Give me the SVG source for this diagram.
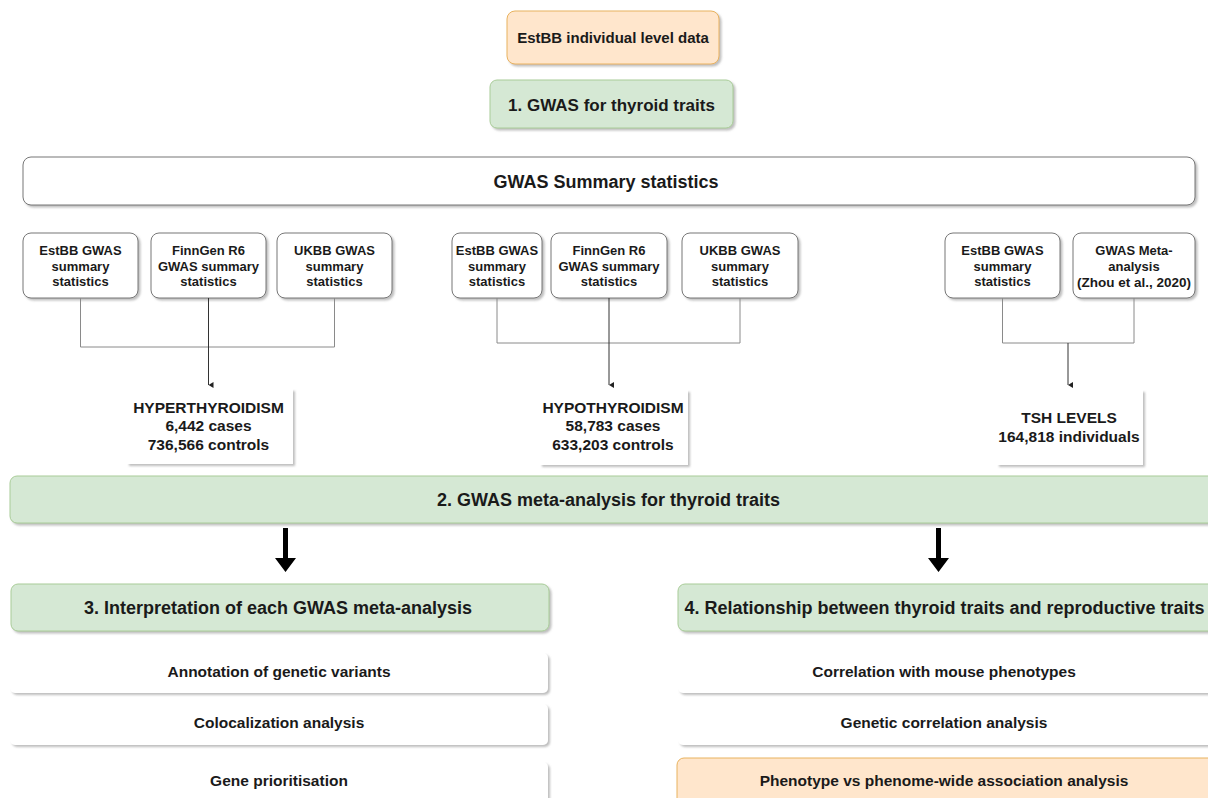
<svg xmlns="http://www.w3.org/2000/svg" width="1208" height="798" viewBox="0 0 1208 798">
<defs>
<filter id="sh" x="-5%" y="-5%" width="115%" height="130%">
<feDropShadow dx="2" dy="2" stdDeviation="1" flood-color="#888" flood-opacity="0.55"/>
</filter>
<marker id="ah" markerWidth="6" markerHeight="6" refX="3" refY="5" orient="auto" markerUnits="userSpaceOnUse">
<path d="M0,0 L6,0 L3,5 Z" fill="#222"/>
</marker>
</defs>
<style>
text{font-family:"Liberation Sans",Arial,Helvetica,sans-serif;font-weight:bold;fill:#1a1a1a;text-anchor:middle}
.orange{fill:#ffe6cc;stroke:#e8b25e;stroke-width:1}
.green{fill:#d5e8d4;stroke:#a9cc98;stroke-width:1}
.wb{fill:#fff;stroke:#777;stroke-width:1}
.plain{fill:#fff;stroke:none}
.s13{font-size:13px}
.s15{font-size:15px}
.s155{font-size:15.5px}
.s17{font-size:17px}
.s18{font-size:18px}
.ln{fill:none;stroke:#8a8a8a;stroke-width:1}
.ar{fill:none;stroke:#333;stroke-width:1}
</style>

<g id="estbb-data">
<rect class="orange" x="507" y="11" width="212" height="53" rx="8" filter="url(#sh)"/>
<text class="s15" x="613" y="42.5">EstBB individual level data</text>
</g>

<g id="step1">
<rect class="green" x="490" y="80" width="243" height="48" rx="7" filter="url(#sh)"/>
<text class="s17" x="611.5" y="111">1. GWAS for thyroid traits</text>
</g>

<g id="summary-stats">
<rect class="wb" x="23" y="157" width="1172" height="48" rx="8" filter="url(#sh)"/>
<text class="s18" x="606" y="188">GWAS Summary statistics</text>
</g>

<g id="hyper-estbb">
<rect class="wb" x="23" y="233" width="115" height="65" rx="8" filter="url(#sh)"/>
<text class="s13"><tspan x="80.5" y="254.5">EstBB GWAS</tspan><tspan x="80.5" y="271">summary</tspan><tspan x="80.5" y="286">statistics</tspan></text>
</g>
<g id="hyper-finngen">
<rect class="wb" x="151" y="233" width="115" height="65" rx="8" filter="url(#sh)"/>
<text class="s13"><tspan x="208.5" y="254.5">FinnGen R6</tspan><tspan x="208.5" y="271">GWAS summary</tspan><tspan x="208.5" y="286">statistics</tspan></text>
</g>
<g id="hyper-ukbb">
<rect class="wb" x="277" y="233" width="115" height="65" rx="8" filter="url(#sh)"/>
<text class="s13"><tspan x="334.5" y="254.5">UKBB GWAS</tspan><tspan x="334.5" y="271">summary</tspan><tspan x="334.5" y="286">statistics</tspan></text>
</g>

<g id="hypo-estbb">
<rect class="wb" x="452" y="233" width="90" height="65" rx="8" filter="url(#sh)"/>
<text class="s13"><tspan x="497" y="254.5">EstBB GWAS</tspan><tspan x="497" y="271">summary</tspan><tspan x="497" y="286">statistics</tspan></text>
</g>
<g id="hypo-finngen">
<rect class="wb" x="551" y="233" width="116" height="65" rx="8" filter="url(#sh)"/>
<text class="s13"><tspan x="609" y="254.5">FinnGen R6</tspan><tspan x="609" y="271">GWAS summary</tspan><tspan x="609" y="286">statistics</tspan></text>
</g>
<g id="hypo-ukbb">
<rect class="wb" x="682" y="233" width="116" height="65" rx="8" filter="url(#sh)"/>
<text class="s13"><tspan x="740" y="254.5">UKBB GWAS</tspan><tspan x="740" y="271">summary</tspan><tspan x="740" y="286">statistics</tspan></text>
</g>

<g id="tsh-estbb">
<rect class="wb" x="945" y="233" width="115" height="65" rx="8" filter="url(#sh)"/>
<text class="s13"><tspan x="1002.5" y="254.5">EstBB GWAS</tspan><tspan x="1002.5" y="271">summary</tspan><tspan x="1002.5" y="286">statistics</tspan></text>
</g>
<g id="tsh-meta">
<rect class="wb" x="1073" y="233" width="122" height="65" rx="8" filter="url(#sh)"/>
<text class="s13"><tspan x="1134" y="254.5">GWAS Meta-</tspan><tspan x="1134" y="271">analysis</tspan><tspan x="1134" y="287" font-size="13.5px">(Zhou et al., 2020)</tspan></text>
</g>

<g id="connectors">
<path class="ln" d="M80.5,298 V347 H334.5 V298"/>
<path class="ar" d="M208.5,298 V385" marker-end="url(#ah)"/>
<path class="ln" d="M497,298 V343 H740 V298"/>
<path class="ar" d="M609,298 V385" marker-end="url(#ah)"/>
<path class="ln" d="M1002.5,298 V343 H1134 V298"/>
<path class="ar" d="M1068,343 V385" marker-end="url(#ah)"/>
<polygon points="283,528 288,528 288,558 296,558 285.5,572 275,558 283,558" fill="#000"/>
<polygon points="936,528 941,528 941,558 949,558 938.5,572 928,558 936,558" fill="#000"/>
</g>

<g id="hyperthyroidism">
<rect class="plain" x="127" y="389" width="166" height="75" filter="url(#sh)"/>
<text class="s155"><tspan x="208.5" y="412.5">HYPERTHYROIDISM</tspan><tspan x="208.5" y="431">6,442 cases</tspan><tspan x="208.5" y="449.5">736,566 controls</tspan></text>
</g>
<g id="hypothyroidism">
<rect class="plain" x="540" y="390" width="148" height="75" filter="url(#sh)"/>
<text class="s155"><tspan x="613" y="412.5">HYPOTHYROIDISM</tspan><tspan x="613" y="431">58,783 cases</tspan><tspan x="613" y="449.5">633,203 controls</tspan></text>
</g>
<g id="tsh-levels">
<rect class="plain" x="997" y="390" width="146" height="75" filter="url(#sh)"/>
<text class="s155"><tspan x="1069" y="422.5">TSH LEVELS</tspan><tspan x="1069" y="441.5">164,818 individuals</tspan></text>
</g>

<g id="step2">
<rect class="green" x="10" y="476" width="1210" height="47" rx="7" filter="url(#sh)"/>
<text class="s18" x="608.5" y="506">2. GWAS meta-analysis for thyroid traits</text>
</g>

<g id="step3">
<rect class="green" x="11" y="584" width="538" height="47" rx="7" filter="url(#sh)"/>
<text class="s18" x="278" y="614">3. Interpretation of each GWAS meta-analysis</text>
</g>
<g id="step4">
<rect class="green" x="678" y="584" width="545" height="47" rx="7" filter="url(#sh)"/>
<text class="s18" x="944.5" y="614">4. Relationship between thyroid traits and reproductive traits</text>
</g>

<g id="annotation">
<rect class="plain" x="10" y="653" width="538" height="40" rx="5" filter="url(#sh)"/>
<text class="s155" x="279" y="676.5">Annotation of genetic variants</text>
</g>
<g id="colocalization">
<rect class="plain" x="10" y="704" width="538" height="41" rx="5" filter="url(#sh)"/>
<text class="s155" x="279" y="727.5">Colocalization analysis</text>
</g>
<g id="gene-prioritisation">
<rect class="plain" x="10" y="762" width="538" height="50" rx="5" filter="url(#sh)"/>
<text class="s155" x="279" y="785.5">Gene prioritisation</text>
</g>

<g id="mouse">
<rect class="plain" x="678" y="653" width="540" height="40" rx="5" filter="url(#sh)"/>
<text class="s155" x="944" y="676.5">Correlation with mouse phenotypes</text>
</g>
<g id="genetic-correlation">
<rect class="plain" x="678" y="704" width="540" height="41" rx="5" filter="url(#sh)"/>
<text class="s155" x="944" y="727.5">Genetic correlation analysis</text>
</g>
<g id="phewas">
<rect class="orange" x="677" y="758" width="545" height="50" rx="7"/>
<text class="s155" x="944" y="785.5">Phenotype vs phenome-wide association analysis</text>
</g>
</svg>
